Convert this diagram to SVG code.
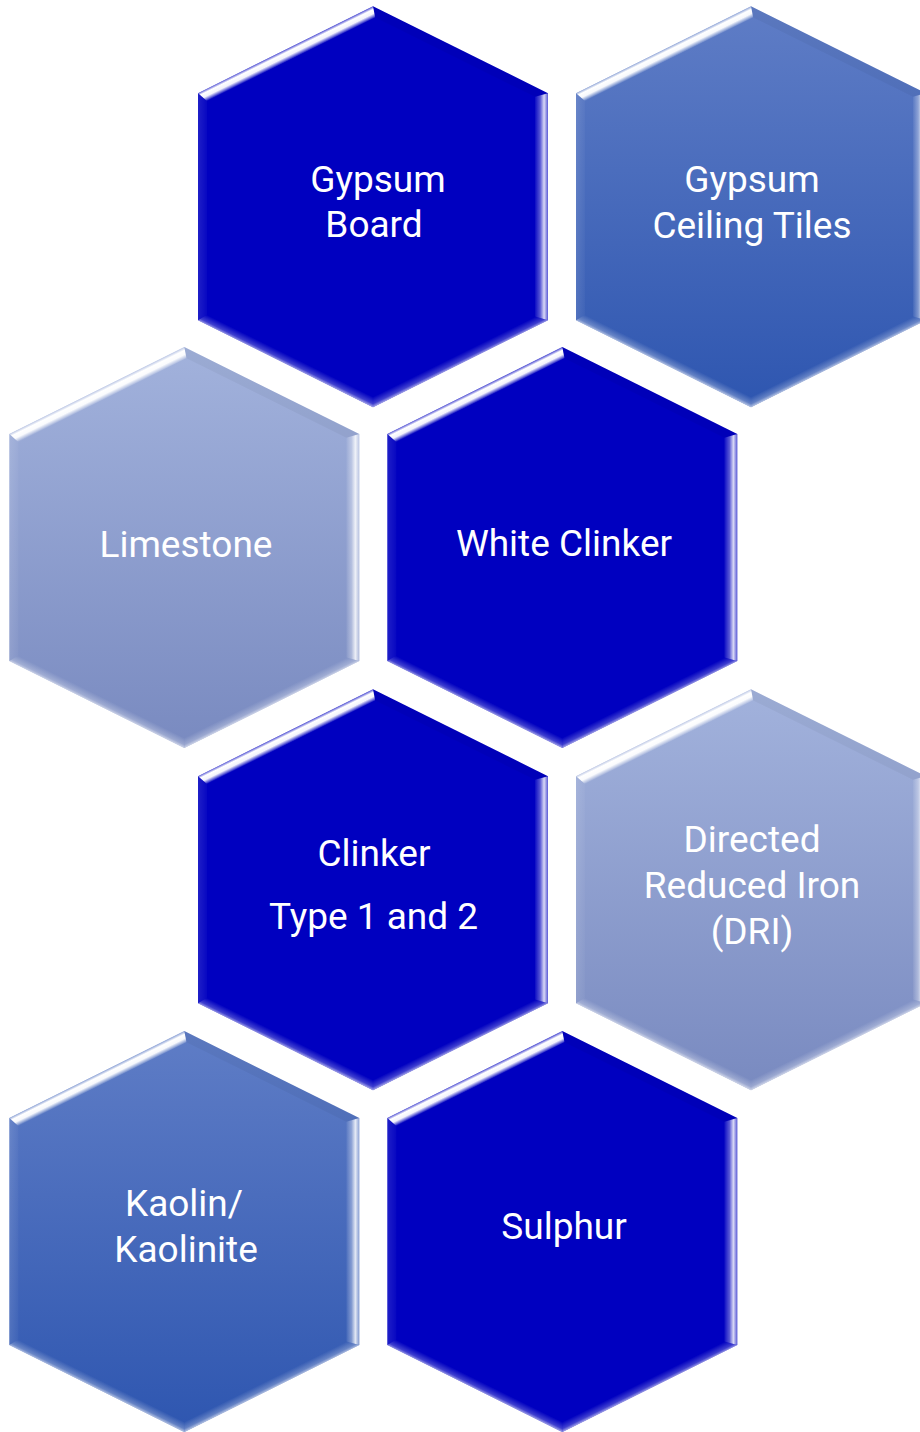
<svg xmlns="http://www.w3.org/2000/svg" xmlns:xlink="http://www.w3.org/1999/xlink" width="920" height="1432" viewBox="0 0 920 1432">
  <style>
    .lbl { font-family: Roboto, "Liberation Sans", Arial, sans-serif; font-size: 37px; fill: #ffffff; text-anchor: middle; }
  </style>
  <defs>
    <linearGradient id="gMid" x1="0" y1="0" x2="0" y2="1">
      <stop offset="0" stop-color="#5F7DC6"/>
      <stop offset="1" stop-color="#2E56B0"/>
    </linearGradient>
    <linearGradient id="gLight" x1="0" y1="0" x2="0" y2="1">
      <stop offset="0" stop-color="#A2B2DC"/>
      <stop offset="1" stop-color="#798AC0"/>
    </linearGradient>
    <!-- bevel facet gradients, local coordinates -->
    <linearGradient id="bTL" gradientUnits="userSpaceOnUse" x1="-87.5" y1="-157" x2="-82.6" y2="-147.1">
      <stop offset="0" stop-color="#fff" stop-opacity="0.35"/>
      <stop offset="0.25" stop-color="#fff" stop-opacity="1"/>
      <stop offset="0.6" stop-color="#fff" stop-opacity="0.95"/>
      <stop offset="0.85" stop-color="#fff" stop-opacity="0.4"/>
      <stop offset="1" stop-color="#fff" stop-opacity="0.05"/>
    </linearGradient>
    <linearGradient id="bR" gradientUnits="userSpaceOnUse" x1="175" y1="0" x2="162" y2="0">
      <stop offset="0" stop-color="#fff" stop-opacity="0.35"/>
      <stop offset="0.3" stop-color="#fff" stop-opacity="0.85"/>
      <stop offset="0.6" stop-color="#fff" stop-opacity="0.35"/>
      <stop offset="1" stop-color="#fff" stop-opacity="0.05"/>
    </linearGradient>
    <linearGradient id="bBR" gradientUnits="userSpaceOnUse" x1="87.5" y1="157" x2="83.5" y2="148.9">
      <stop offset="0" stop-color="#fff" stop-opacity="0.6"/>
      <stop offset="0.3" stop-color="#fff" stop-opacity="0.25"/>
      <stop offset="1" stop-color="#fff" stop-opacity="0"/>
    </linearGradient>
    <linearGradient id="bBL" gradientUnits="userSpaceOnUse" x1="-87.5" y1="157" x2="-83.5" y2="148.9">
      <stop offset="0" stop-color="#fff" stop-opacity="0.6"/>
      <stop offset="0.3" stop-color="#fff" stop-opacity="0.25"/>
      <stop offset="1" stop-color="#fff" stop-opacity="0"/>
    </linearGradient>
    <linearGradient id="bL" gradientUnits="userSpaceOnUse" x1="-175" y1="0" x2="-166" y2="0">
      <stop offset="0" stop-color="#fff" stop-opacity="0.12"/>
      <stop offset="1" stop-color="#fff" stop-opacity="0.03"/>
    </linearGradient>
    <polygon id="hex" points="0,-200.5 175,-113.5 175,113.5 0,200.5 -175,113.5 -175,-113.5"/>
    <g id="bevel">
      <polygon points="-175,-113.5 0,-200.5 2.2,-189.3 -166,-105.7" fill="url(#bTL)"/>
      <polygon points="175,-113.5 175,113.5 162,109.9 162,-109.9" fill="url(#bR)"/>
      <polygon points="175,113.5 0,200.5 0,190.4 162,109.9" fill="url(#bBR)"/>
      <polygon points="0,200.5 -175,113.5 -166,108 0,190.4" fill="url(#bBL)"/>
      <polygon points="-175,113.5 -175,-113.5 -166,-105.7 -166,108" fill="url(#bL)"/>
      <polygon points="0,-200.5 175,-113.5 162,-109.9 2.2,-189.3" fill="#000" fill-opacity="0.04"/>
    </g>
  </defs>

  <g id="node-gypsum-board">
    <g transform="translate(373,206.7)"><use href="#hex" fill="#0000C0"/><use href="#bevel"/></g>
    <text class="lbl" x="378" y="192">Gypsum</text>
    <text class="lbl" x="374" y="237">Board</text>
  </g>

  <g id="node-gypsum-ceiling-tiles">
    <g transform="translate(751,206.7)"><use href="#hex" fill="url(#gMid)"/><use href="#bevel"/></g>
    <text class="lbl" x="752" y="192">Gypsum</text>
    <text class="lbl" x="752" y="238">Ceiling Tiles</text>
  </g>

  <g id="node-limestone">
    <g transform="translate(184.3,547.6)"><use href="#hex" fill="url(#gLight)"/><use href="#bevel"/></g>
    <text class="lbl" x="186" y="557">Limestone</text>
  </g>

  <g id="node-white-clinker">
    <g transform="translate(562.3,547.6)"><use href="#hex" fill="#0000C0"/><use href="#bevel"/></g>
    <text class="lbl" x="564" y="556">White Clinker</text>
  </g>

  <g id="node-clinker">
    <g transform="translate(373,889.7)"><use href="#hex" fill="#0000C0"/><use href="#bevel"/></g>
    <text class="lbl" x="374" y="866">Clinker</text>
    <text class="lbl" x="373.5" y="929">Type 1 and 2</text>
  </g>

  <g id="node-dri">
    <g transform="translate(751,889.7)"><use href="#hex" fill="url(#gLight)"/><use href="#bevel"/></g>
    <text class="lbl" x="752" y="852">Directed</text>
    <text class="lbl" x="752" y="898">Reduced Iron</text>
    <text class="lbl" x="752" y="944">(DRI)</text>
  </g>

  <g id="node-kaolin">
    <g transform="translate(184.3,1231.6)"><use href="#hex" fill="url(#gMid)"/><use href="#bevel"/></g>
    <text class="lbl" x="184" y="1216">Kaolin/</text>
    <text class="lbl" x="186" y="1262">Kaolinite</text>
  </g>

  <g id="node-sulphur">
    <g transform="translate(562.3,1231.6)"><use href="#hex" fill="#0000C0"/><use href="#bevel"/></g>
    <text class="lbl" x="564" y="1239">Sulphur</text>
  </g>

  <g id="connectors"/>
</svg>
